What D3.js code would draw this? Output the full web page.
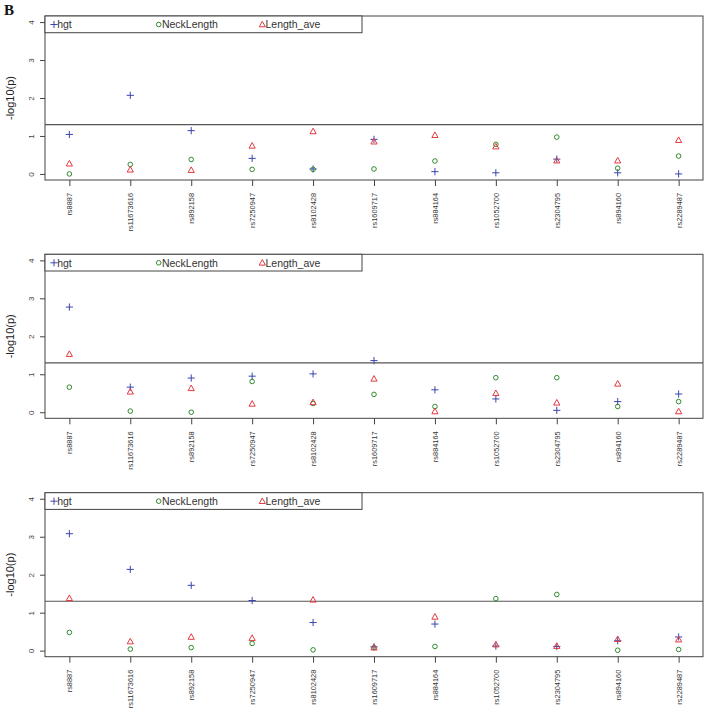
<!DOCTYPE html>
<html>
<head>
<meta charset="utf-8">
<script src="https://cdn.jsdelivr.net/npm/d3@7"></script>
<style>
  body { margin: 0; background: #fff; }
  svg { display: block; }
  svg text { font-family: 'Liberation Sans', Arial, Helvetica, sans-serif; }
  svg text.panel-tag { font-family: 'Liberation Serif', 'Times New Roman', serif; }
</style>
</head>
<body>
<script>
// ---- data ----
const categories = ["rs8887","rs11673616","rs892158","rs7250947","rs8102428","rs1609717","rs884164","rs1052700","rs2304795","rs894160","rs2289487"];
const yTicks = [0, 1, 2, 3, 4];
const threshold = 1.30103;
const seriesNames = ["hgt", "NeckLength", "Length_ave"];

const hgt1  = [1.04, 2.07, 1.14, 0.41, 0.13, 0.91, 0.06, 0.03, 0.39, 0.03, 0.00];
const neck1 = [0.00, 0.25, 0.38, 0.12, 0.12, 0.13, 0.34, 0.78, 0.97, 0.15, 0.47];
const len1  = [0.27, 0.11, 0.10, 0.74, 1.12, 0.85, 1.02, 0.72, 0.35, 0.35, 0.89];

const hgt2  = [2.77, 0.66, 0.90, 0.95, 1.01, 1.36, 0.59, 0.35, 0.05, 0.28, 0.48];
const neck2 = [0.66, 0.03, 0.00, 0.81, 0.23, 0.47, 0.15, 0.91, 0.91, 0.15, 0.28];
const len2  = [1.53, 0.54, 0.63, 0.22, 0.26, 0.88, 0.02, 0.50, 0.25, 0.75, 0.02];

const hgt3  = [3.08, 2.14, 1.72, 1.32, 0.74, 0.10, 0.70, 0.12, 0.11, 0.26, 0.36];
const neck3 = [0.48, 0.04, 0.08, 0.19, 0.02, 0.08, 0.11, 1.37, 1.48, 0.01, 0.03];
const len3  = [1.38, 0.24, 0.36, 0.33, 1.34, 0.08, 0.89, 0.16, 0.12, 0.30, 0.29];

const panels = [
  [hgt1, neck1, len1],
  [hgt2, neck2, len2],
  [hgt3, neck3, len3]
];

// ---- layout ----
const W = 708, H = 713;
const colors = ["#3a46b0", "#2f8a2f", "#e5393f"];
const axisCol = "#444";
const left = 45, right = 703, panelH = 164;
const tops = [16, 254.3, 492.7];

const svg = d3.select("body").append("svg").attr("width", W).attr("height", H);

svg.append("text").attr("class", "panel-tag").attr("x", 4).attr("y", 15)
  .style("font-weight", "bold").style("font-size", "15px").attr("fill", "#111").text("B");

const x = d3.scaleLinear().domain([1 - 0.4, categories.length + 0.4]).range([left, right]);

function drawMarker(g, type, cx, cy, color) {
  if (type === 0) {
    g.append("path").attr("d", `M${cx-3.6},${cy}H${cx+3.6}M${cx},${cy-3.6}V${cy+3.6}`)
      .attr("stroke", color).attr("stroke-width", 1).attr("fill", "none");
  } else if (type === 1) {
    g.append("circle").attr("cx", cx).attr("cy", cy).attr("r", 2.3)
      .attr("stroke", color).attr("stroke-width", 1).attr("fill", "none");
  } else {
    const s = 3.1;
    g.append("path").attr("d", `M${cx},${cy-s*1.05}L${cx+s},${cy+s*0.75}L${cx-s},${cy+s*0.75}Z`)
      .attr("stroke", color).attr("stroke-width", 1).attr("fill", "none");
  }
}

panels.forEach((series, pi) => {
  const top = tops[pi], bottom = top + panelH;
  const y = d3.scaleLinear().domain([-0.16, 4.16]).range([bottom, top]);
  const g = svg.append("g");

  // box
  g.append("rect").attr("x", left).attr("y", top).attr("width", right - left).attr("height", panelH)
    .attr("fill", "none").attr("stroke", axisCol).attr("stroke-width", 1);

  // y axis
  const yAxis = d3.axisLeft(y).tickValues(yTicks).tickSize(5).tickPadding(3).tickFormat(d3.format("d"));
  const ya = g.append("g").attr("transform", `translate(${left},0)`).call(yAxis);
  ya.select(".domain").remove();
  ya.selectAll("line").attr("stroke", axisCol);
  ya.selectAll("text").attr("fill", "#444").style("font-size", "8px")
    .attr("x", null).attr("dy", null)
    .attr("transform", `translate(-13,0) rotate(-90)`)
    .attr("text-anchor", "middle").attr("dy", "0.3em");

  // x axis
  const xAxis = d3.axisBottom(x).tickValues(d3.range(1, categories.length + 1)).tickSize(6)
    .tickFormat(i => categories[i - 1]);
  const xa = g.append("g").attr("transform", `translate(0,${bottom})`).call(xAxis);
  xa.select(".domain").remove();
  xa.selectAll("line").attr("stroke", axisCol);
  xa.selectAll("text").attr("fill", "#333").style("font-size", "7.4px")
    .attr("y", null).attr("dy", null)
    .attr("transform", "translate(0,13) rotate(-90)")
    .attr("text-anchor", "end").attr("dy", "0.33em");

  // y label
  g.append("text").attr("transform", `translate(14,${(top + bottom) / 2}) rotate(-90)`)
    .attr("text-anchor", "middle").style("font-size", "11px").attr("fill", "#222").text("-log10(p)");

  // threshold line
  g.append("line").attr("x1", left).attr("x2", right).attr("y1", y(threshold)).attr("y2", y(threshold))
    .attr("stroke", "#555").attr("stroke-width", 1.2);

  // points
  series.forEach((vals, si) => {
    vals.forEach((v, i) => drawMarker(g, si, x(i + 1), y(v), colors[si]));
  });

  // legend
  g.append("rect").attr("x", left).attr("y", top).attr("width", 317).attr("height", 16.7)
    .attr("fill", "#fff").attr("stroke", axisCol).attr("stroke-width", 1);
  const legX = [54, 158.7, 262.3];
  seriesNames.forEach((name, si) => {
    drawMarker(g, si, legX[si], top + 8.5, colors[si]);
    g.append("text").attr("x", legX[si] + 3.2).attr("y", top + 12.3)
      .style("font-size", "10.5px").attr("fill", "#333").text(name);
  });
});
</script>
</body>
</html>
